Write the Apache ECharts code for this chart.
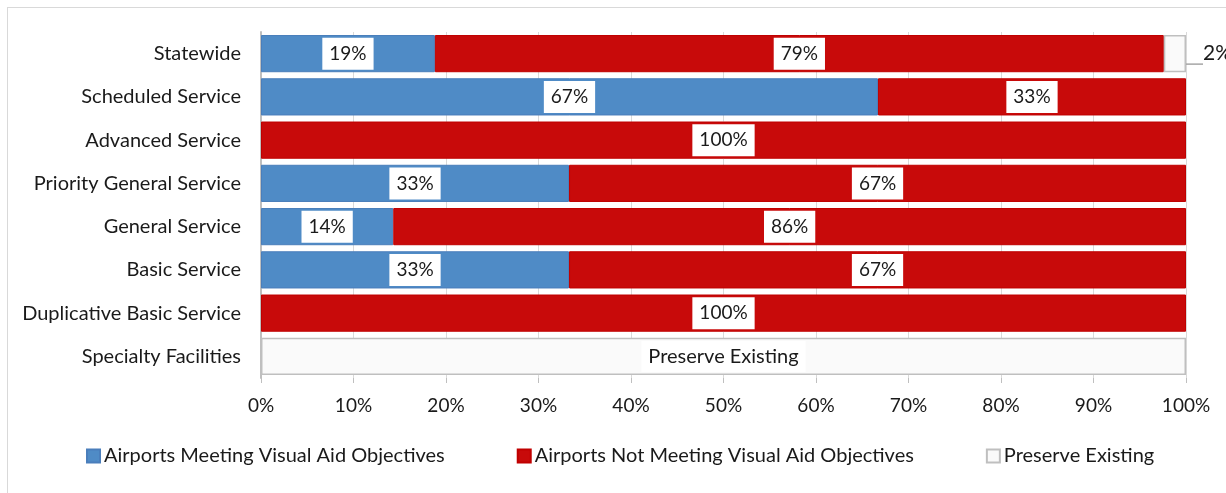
<!DOCTYPE html>
<html>
<head>
<meta charset="utf-8">
<script src="https://cdn.jsdelivr.net/npm/echarts@6/dist/echarts.min.js"></script>
<style>
  html, body { margin: 0; padding: 0; background: #fff; }
  #chart { width: 1226px; height: 493px; }
  #frame { position: absolute; left: 7px; top: 7px; width: 1240px; height: 500px; border: 1px solid #d9d9d9; pointer-events: none; }
</style>
</head>
<body>
<div id="chart"></div>
<div id="frame"></div>
<script>
// categories, top to bottom as drawn
const categories = ['Statewide', 'Scheduled Service', 'Advanced Service', 'Priority General Service',
  'General Service', 'Basic Service', 'Duplicative Basic Service', 'Specialty Facilities']
const meeting = [18.8, 66.7, 0, 33.3, 14.3, 33.3, 0, 0]
const notMeeting = [78.8, 33.3, 100, 66.7, 85.7, 66.7, 100, 0]
const preserve = [2.4, 0, 0, 0, 0, 0, 0, 100]
const xTicks = [0, 10, 20, 30, 40, 50, 60, 70, 80, 90, 100]

const FONT = 'Lato'
const chart = echarts.init(document.getElementById('chart'))

const boxLabel = {
  show: true,
  position: 'inside',
  color: '#1a1a1a',
  fontFamily: FONT,
  fontSize: 19,
  backgroundColor: '#fff',
  padding: [7, 7, 6, 7],
  formatter: p => p.value > 0 ? Math.round(p.value) + '%' : ''
}

// reverse so first category sits on top; zero segments are left out
const rev = a => a.slice().reverse()
const cats = rev(categories)
const noZero = a => a.map(v => v === 0 ? '-' : v)

const option = {
  animation: false,
  grid: { left: 261, right: 40, top: 32, bottom: 115 },
  legend: {
    bottom: 22,
    left: 81,
    itemGap: 72,
    itemWidth: 13,
    itemHeight: 13,
    icon: 'rect',
    textStyle: { fontFamily: FONT, fontSize: 20, color: '#1a1a1a', padding: [0, 0, 0, -1] },
    data: ['Airports Meeting Visual Aid Objectives', 'Airports Not Meeting Visual Aid Objectives', 'Preserve Existing']
  },
  xAxis: {
    type: 'value',
    min: 0,
    max: 100,
    interval: 10,
    axisLabel: { formatter: v => xTicks.includes(v) ? v + '%' : '', fontFamily: FONT, fontSize: 19, color: '#1a1a1a', margin: 18 },
    axisLine: { show: false },
    axisTick: { show: true, length: 5, lineStyle: { color: '#bfbfbf' } },
    splitLine: { show: true, lineStyle: { color: '#d9d9d9', width: 1 } }
  },
  yAxis: {
    type: 'category',
    data: cats,
    axisLabel: { fontFamily: FONT, fontSize: 20, color: '#1a1a1a', margin: 20 },
    axisLine: { show: true, lineStyle: { color: '#bfbfbf', width: 2 } },
    axisTick: { show: false }
  },
  series: [
    {
      name: 'Airports Meeting Visual Aid Objectives',
      type: 'bar',
      stack: 'all',
      barCategoryGap: '14%',
      data: noZero(rev(meeting)),
      itemStyle: { color: '#4f8bc6', borderColor: '#4a7ebb', borderWidth: 1 },
      label: boxLabel
    },
    {
      name: 'Airports Not Meeting Visual Aid Objectives',
      type: 'bar',
      stack: 'all',
      data: noZero(rev(notMeeting)),
      itemStyle: { color: '#c80a0a', borderColor: '#c00000', borderWidth: 1 },
      label: boxLabel
    },
    {
      name: 'Preserve Existing',
      type: 'bar',
      stack: 'all',
      data: rev(preserve).map((v, i) => {
        if (v === 0) return '-'
        if (cats[i] === 'Statewide') {
          return {
            value: v,
            label: {
              show: true, position: 'right', distance: 17,
              backgroundColor: 'transparent', padding: 0,
              fontSize: 21, formatter: Math.round(v) + '%'
            }
          }
        }
        return { value: v, label: { formatter: 'Preserve Existing', fontSize: 20, padding: [6, 7, 5, 7] } }
      }),
      itemStyle: { color: '#fafafa', borderColor: '#bfbfbf', borderWidth: 1.5 },
      label: boxLabel,
      labelLine: { show: true, lineStyle: { color: '#a6a6a6', width: 1.5 } }
    }
  ]
}

chart.setOption(option)
</script>
</body>
</html>
